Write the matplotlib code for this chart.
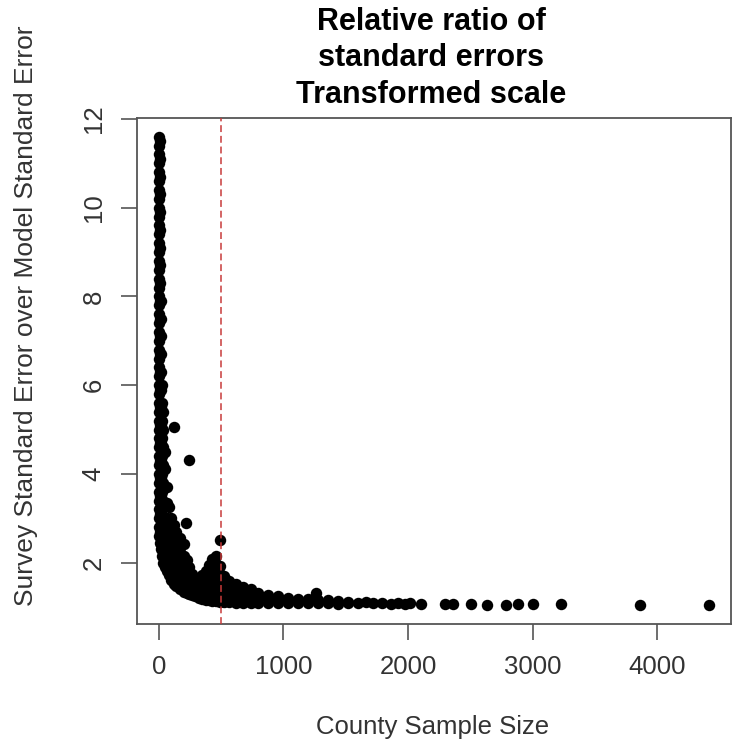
import matplotlib
matplotlib.use("Agg")
import matplotlib.pyplot as plt
import numpy as np

plt.rcParams['font.family'] = ['Liberation Sans', 'DejaVu Sans']

# Dense part of the cloud: counties grouped by sample size,
# with the ratios for each group
column_sizes = [2, 10, 18, 26, 36, 48, 64, 80, 100, 120, 140, 170, 200,
                224, 244, 264, 290, 320, 350, 376, 400, 430, 456, 488,
                520, 560, 620, 680, 740, 800, 880, 960]
column_ratios = [
    [11.6, 11.4, 11.2, 11.0, 10.8, 10.6, 10.4, 10.2, 10.0, 9.8, 9.6, 9.4,
     9.2, 9.0, 8.8, 8.6, 8.4, 8.2, 8.0, 7.8, 7.6, 7.4, 7.2, 7.0, 6.8, 6.6,
     6.4, 6.2, 6.0, 5.8, 5.6, 5.4, 5.2, 5.0, 4.8, 4.6, 4.4, 4.2, 4.0, 3.8,
     3.6, 3.4, 3.2, 3.0, 2.8, 2.6],
    [11.5, 11.1, 10.7, 10.3, 9.9, 9.5, 9.1, 8.7, 8.3, 7.9, 7.5, 7.1, 6.7,
     6.3, 5.9, 5.5, 5.1, 4.7, 4.3, 3.9, 3.5, 3.1, 2.7, 2.45],
    [7.9, 7.5, 7.1, 6.7, 6.3, 5.9, 5.5, 5.1, 4.7, 4.3, 3.9, 3.5, 3.1, 2.7, 2.3],
    [6.0, 5.6, 5.2, 4.8, 4.4, 4.0, 3.6, 3.2, 2.8, 2.45, 2.15],
    [5.4, 5.0, 4.6, 4.2, 3.8, 3.4, 3.0, 2.6, 2.3, 2.0],
    [4.5, 4.1, 3.7, 3.3, 2.9, 2.55, 2.2, 1.9],
    [3.7, 3.35, 3.0, 2.7, 2.4, 2.1, 1.82],
    [3.25, 2.95, 2.65, 2.35, 2.05, 1.72],
    [3.0, 2.7, 2.4, 2.1, 1.85, 1.6],
    [2.85, 2.55, 2.25, 1.95, 1.72, 1.52],
    [2.7, 2.4, 2.1, 1.85, 1.65, 1.47],
    [2.55, 2.25, 1.98, 1.75, 1.56, 1.4],
    [2.43, 2.15, 1.9, 1.68, 1.5, 1.35],
    [2.05, 1.85, 1.65, 1.47, 1.32],
    [1.9, 1.7, 1.52, 1.38, 1.3],
    [1.75, 1.58, 1.42, 1.27],
    [1.65, 1.5, 1.36, 1.24],
    [1.6, 1.45, 1.32, 1.2],
    [1.72, 1.56, 1.42, 1.3, 1.18],
    [1.82, 1.66, 1.5, 1.36, 1.26, 1.16],
    [1.95, 1.78, 1.6, 1.45, 1.3, 1.15],
    [2.08, 1.9, 1.72, 1.55, 1.4, 1.26, 1.14],
    [2.16, 1.98, 1.8, 1.62, 1.46, 1.3, 1.13],
    [1.93, 1.75, 1.58, 1.42, 1.27, 1.12],
    [1.7, 1.54, 1.4, 1.26, 1.12],
    [1.58, 1.44, 1.3, 1.18, 1.11],
    [1.52, 1.38, 1.25, 1.1],
    [1.46, 1.33, 1.2, 1.1],
    [1.4, 1.28, 1.17, 1.1],
    [1.32, 1.22, 1.09],
    [1.28, 1.18, 1.09],
    [1.24, 1.15, 1.09],
]

# Sparser counties with large samples
tail_sizes = [1040, 1040, 1120, 1120, 1200, 1200, 1280, 1280, 1360, 1360,
              1440, 1440, 1520, 1520, 1600, 1660, 1720, 1790, 1860, 1920,
              1976, 2016, 2104, 2296, 2360, 2504, 2632, 2784, 2880, 3000,
              3232, 3864, 4416]
tail_ratios = [1.21, 1.08, 1.19, 1.08, 1.17, 1.08, 1.16, 1.08, 1.15, 1.08,
               1.13, 1.07, 1.12, 1.08, 1.10, 1.12, 1.08, 1.10, 1.07, 1.09,
               1.07, 1.09, 1.07, 1.07, 1.07, 1.06, 1.05, 1.05, 1.06, 1.07,
               1.07, 1.04, 1.04]

# Isolated points away from the main cloud
outlier_sizes = [120, 240, 216, 488, 1264]
outlier_ratios = [5.05, 4.32, 2.9, 2.5, 1.32]

cutoff = 500
x_ticks = [0, 1000, 2000, 3000, 4000]
y_ticks = [2, 4, 6, 8, 10, 12]

sizes = []
ratios = []
for n, col in zip(column_sizes, column_ratios):
    sizes += [n] * len(col)
    ratios += col
sizes += tail_sizes + outlier_sizes
ratios += tail_ratios + outlier_ratios
sizes = np.array(sizes, dtype=float)
ratios = np.array(ratios, dtype=float)

W, H = 733, 742
fig = plt.figure(figsize=(W / 100, H / 100), dpi=100)
ax = fig.add_axes([137 / W, 1 - 624 / H, (731 - 137) / W, (624 - 118) / H])

ax.scatter(sizes, ratios, s=68, c='black', linewidths=0, zorder=2)
ax.axvline(cutoff, color='#c83a3a', lw=1.1, ls=(0, (4.5, 2.5)), zorder=3)

# R style 4% padding
xr = sizes.max() - sizes.min()
yr = ratios.max() - ratios.min()
ax.set_xlim(sizes.min() - 0.04 * xr, sizes.max() + 0.04 * xr)
ax.set_ylim(ratios.min() - 0.04 * yr, ratios.max() + 0.04 * yr)

ax.set_xticks(x_ticks)
ax.set_yticks(y_ticks)
ax.set_xticklabels([str(t) for t in x_ticks])
ax.set_yticklabels([str(t) for t in y_ticks], rotation=90, va='center')
ax.tick_params(axis='both', direction='out', length=11.5, width=1.2,
               color='#555555', labelsize=18.5, labelcolor='#333333')
ax.tick_params(axis='x', pad=11)
ax.tick_params(axis='y', pad=11)
for sp in ax.spines.values():
    sp.set_color('#555555')
    sp.set_linewidth(1.3)

fig.text(431 / W, 1 - 22 / H, 'Relative ratio of', ha='center', va='center',
         fontsize=22, fontweight='bold', color='black')
fig.text(431 / W, 1 - 58 / H, 'standard errors', ha='center', va='center',
         fontsize=22, fontweight='bold', color='black')
fig.text(431 / W, 1 - 95 / H, 'Transformed scale', ha='center', va='center',
         fontsize=22, fontweight='bold', color='black')

fig.text(433 / W, 1 - 727 / H, 'County Sample Size', ha='center', va='center',
         fontsize=18.5, color='#333333')
fig.text(26 / W, 1 - 316 / H, 'Survey Standard Error over Model Standard Error',
         ha='center', va='center', rotation=90, fontsize=19, color='#333333')

fig.savefig('out.png', dpi=100)
